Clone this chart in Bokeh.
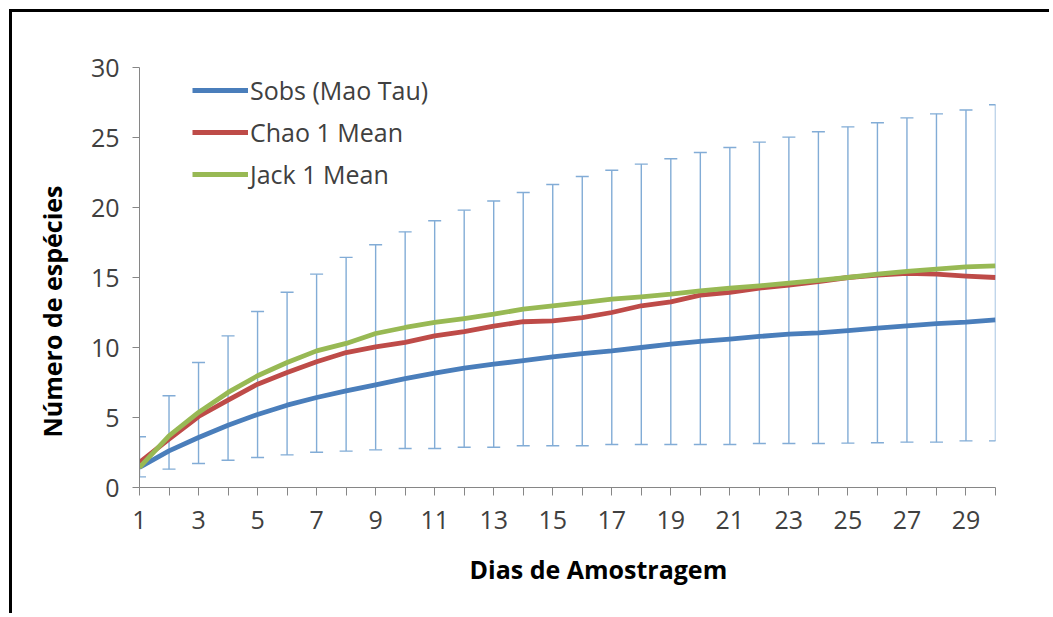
from bokeh.plotting import figure
from bokeh.models import (Range1d, FixedTicker, Whisker, TeeHead, ColumnDataSource,
                          Legend, LegendItem, Title)
from bokeh.embed import file_html
from bokeh.resources import INLINE

days = list(range(1, 31))
sobs = [1.43, 2.62, 3.57, 4.45, 5.22, 5.88, 6.43, 6.9, 7.33, 7.78, 8.17, 8.52, 8.81, 9.06, 9.33,
        9.57, 9.76, 10.0, 10.24, 10.43, 10.6, 10.79, 10.95, 11.05, 11.2, 11.38, 11.55, 11.71, 11.81, 11.98]
chao1 = [1.79, 3.45, 5.07, 6.24, 7.38, 8.21, 8.98, 9.64, 10.05, 10.36, 10.83, 11.14, 11.53, 11.84, 11.9,
         12.14, 12.5, 12.98, 13.26, 13.74, 13.93, 14.24, 14.45, 14.7, 15.0, 15.17, 15.29, 15.24, 15.1, 15.0]
jack1 = [1.43, 3.69, 5.36, 6.79, 7.98, 8.93, 9.76, 10.29, 11.0, 11.43, 11.79, 12.07, 12.38, 12.74, 12.98,
         13.21, 13.45, 13.62, 13.81, 14.05, 14.24, 14.4, 14.6, 14.8, 15.0, 15.24, 15.43, 15.6, 15.76, 15.83]
sobs_upper = [3.62, 6.55, 8.93, 10.83, 12.57, 13.95, 15.24, 16.44, 17.34, 18.26, 19.05, 19.81, 20.46, 21.07, 21.64,
              22.21, 22.66, 23.1, 23.48, 23.93, 24.29, 24.67, 25.03, 25.41, 25.76, 26.05, 26.4, 26.69, 26.96, 27.34]
sobs_lower = [0.76, 1.31, 1.71, 1.95, 2.14, 2.33, 2.52, 2.6, 2.69, 2.79, 2.79, 2.88, 2.88, 2.98, 2.98,
              2.98, 3.07, 3.07, 3.07, 3.07, 3.07, 3.14, 3.14, 3.14, 3.17, 3.2, 3.24, 3.24, 3.33, 3.33]
series_names = ["Sobs (Mao Tau)", "Chao 1 Mean", "Jack 1 Mean"]
y_ticks = [0, 5, 10, 15, 20, 25, 30]
x_title = "Dias de Amostragem"
y_title = "Número de espécies"

FONT = "Open Sans"
AXIS_GRAY = "#868686"
TEXT = "#404040"
FS = "25px"

p = figure(width=1040, height=604, x_range=Range1d(1, 30), y_range=Range1d(0, 30),
           output_backend="svg", toolbar_location=None,
           min_border_left=127, min_border_top=55, min_border_right=57, min_border_bottom=129)
p.styles = {"border-left": "3px solid black", "border-top": "3px solid black",
            "margin-left": "9px", "margin-top": "9px"}
p.outline_line_color = None
p.xgrid.visible = False
p.ygrid.visible = False

src = ColumnDataSource(dict(x=days, lower=sobs_lower, upper=sobs_upper))
EB = "#82acd6"
w = Whisker(source=src, base="x", lower="lower", upper="upper", dimension="height",
            line_color=EB, line_width=1.4, level="underlay",
            upper_head=TeeHead(size=13, line_color=EB, line_width=1.4),
            lower_head=TeeHead(size=13, line_color=EB, line_width=1.4))
p.add_layout(w)

r1 = p.line(days, sobs, line_color="#4a7ebb", line_width=4.8, line_join="round")
r2 = p.line(days, chao1, line_color="#be4b48", line_width=4.8, line_join="round")
r3 = p.line(days, jack1, line_color="#98b954", line_width=4.8, line_join="round")

for ax in (p.xaxis[0], p.yaxis[0]):
    ax.axis_line_color = AXIS_GRAY
    ax.major_tick_line_color = AXIS_GRAY
    ax.minor_tick_line_color = None
    ax.major_tick_in = 0
    ax.major_label_text_font = FONT
    ax.major_label_text_font_size = FS
    ax.major_label_text_color = TEXT

p.xaxis.ticker = FixedTicker(ticks=days)
p.xaxis.major_label_overrides = {d: (str(d) if d % 2 == 1 else "") for d in days}
p.xaxis.major_tick_out = 8
p.xaxis.major_label_standoff = 15

p.yaxis.ticker = FixedTicker(ticks=y_ticks)
p.yaxis.major_tick_out = 7
p.yaxis.major_label_standoff = 13

tx = Title(text=x_title, align="left", offset=330, standoff=36,
           text_font=FONT, text_font_size=FS, text_font_style="bold", text_color="#000000")
p.add_layout(tx, "below")
ty = Title(text=y_title, align="left", offset=50, standoff=38,
           text_font=FONT, text_font_size=FS, text_font_style="bold", text_color="#000000")
p.add_layout(ty, "left")

legend = Legend(items=[LegendItem(label=series_names[0], renderers=[r1]),
                       LegendItem(label=series_names[1], renderers=[r2]),
                       LegendItem(label=series_names[2], renderers=[r3])],
                location=(53, 296), orientation="vertical")
legend.glyph_width = 56
legend.glyph_height = 30
legend.label_height = 30
legend.spacing = 8
legend.padding = 0
legend.margin = 0
legend.label_standoff = 2
legend.border_line_color = None
legend.background_fill_color = None
legend.label_text_font = FONT
legend.label_text_font_size = FS
legend.label_text_color = TEXT
p.add_layout(legend)

open("out.html", "w").write(file_html(p, INLINE))
